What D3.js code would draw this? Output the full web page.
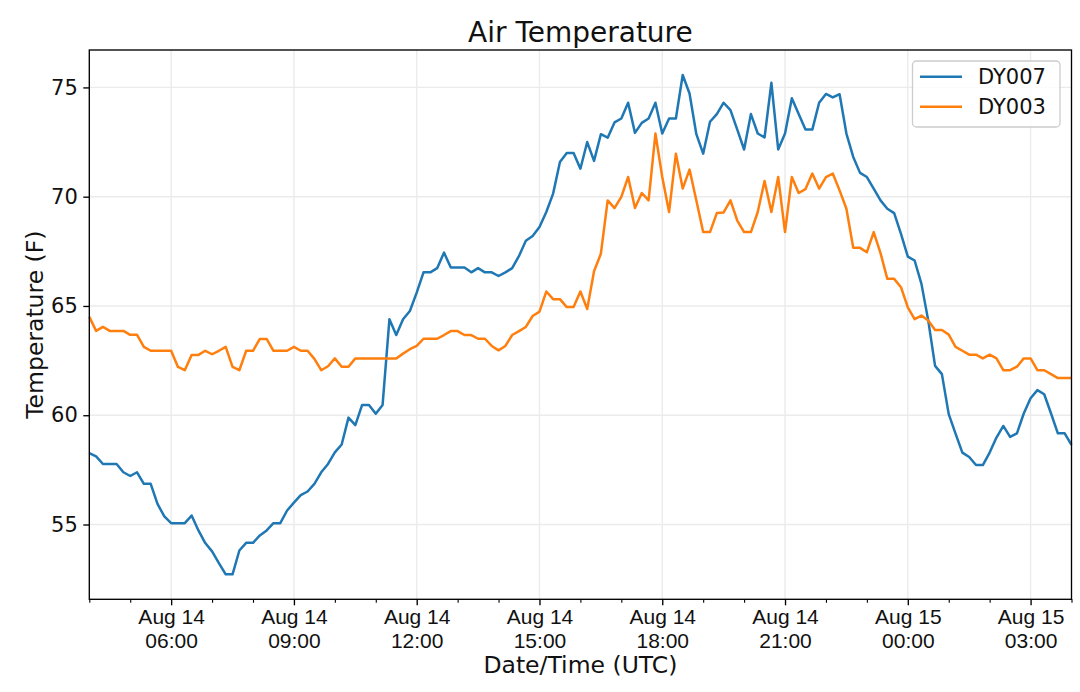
<!DOCTYPE html>
<html>
<head>
<meta charset="utf-8">
<script src="https://cdn.jsdelivr.net/npm/d3@7"></script>
<style>
  body { margin: 0; background: #fff; }
  svg { font-family: "DejaVu Sans", sans-serif; }
</style>
</head>
<body>
<div id="chart"></div>
<script>
// readings every 10 minutes, Aug 14 04:00 UTC -> Aug 15 04:00 UTC
const startTime = "2018-08-14T04:00:00Z";
const stepMinutes = 10;

const seriesNames = ["DY007", "DY003"];
const seriesColors = ["#1f77b4", "#ff7f0e"];

const dy007 = [
  58.27, 58.12, 57.77, 57.77, 57.77, 57.39, 57.22, 57.39, 56.86, 56.86,
  55.94, 55.37, 55.06, 55.06, 55.06, 55.41, 54.73, 54.15, 53.77, 53.23,
  52.72, 52.72, 53.81, 54.16, 54.16, 54.50, 54.73, 55.06, 55.06, 55.64,
  56.00, 56.34, 56.51, 56.86, 57.39, 57.77, 58.30, 58.66, 59.89, 59.55,
  60.47, 60.47, 60.07, 60.47, 64.39, 63.67, 64.39, 64.77, 65.61, 66.54,
  66.54, 66.73, 67.44, 66.76, 66.76, 66.76, 66.54, 66.73, 66.54, 66.54,
  66.37, 66.54, 66.73, 67.29, 67.98, 68.20, 68.61, 69.30, 70.14, 71.59,
  72.00, 72.00, 71.28, 72.50, 71.64, 72.86, 72.70, 73.40, 73.58, 74.30,
  72.92, 73.38, 73.58, 74.30, 72.89, 73.58, 73.58, 75.57, 74.72, 72.86,
  71.97, 73.43, 73.78, 74.30, 73.96, 73.07, 72.16, 73.78, 72.89, 72.71,
  75.21, 72.16, 72.89, 74.50, 73.78, 73.07, 73.07, 74.30, 74.70, 74.54,
  74.69, 72.89, 71.82, 71.09, 70.90, 70.37, 69.83, 69.45, 69.25, 68.30,
  67.26, 67.08, 66.01, 64.33, 62.26, 61.88, 60.05, 59.16, 58.29, 58.09,
  57.72, 57.72, 58.29, 58.98, 59.51, 59.01, 59.17, 60.08, 60.78, 61.15,
  60.96, 60.08, 59.17, 59.17, 58.64
];

const dy003 = [
  64.50, 63.86, 64.04, 63.86, 63.86, 63.86, 63.68, 63.68, 63.13, 62.95,
  62.95, 62.95, 62.95, 62.21, 62.06, 62.76, 62.76, 62.95, 62.79, 62.95,
  63.13, 62.21, 62.06, 62.95, 62.95, 63.49, 63.49, 62.95, 62.95, 62.95,
  63.13, 62.95, 62.95, 62.58, 62.06, 62.24, 62.60, 62.22, 62.22, 62.60,
  62.60, 62.60, 62.60, 62.60, 62.60, 62.60, 62.82, 63.02, 63.17, 63.50,
  63.50, 63.50, 63.67, 63.85, 63.85, 63.67, 63.67, 63.50, 63.50, 63.17,
  62.97, 63.17, 63.67, 63.85, 64.04, 64.54, 64.74, 65.66, 65.31, 65.31,
  64.95, 64.95, 65.66, 64.86, 66.59, 67.39, 69.83, 69.48, 69.99, 70.90,
  69.48, 70.17, 69.83, 72.89, 70.90, 69.30, 71.97, 70.37, 71.24, 69.83,
  68.38, 68.38, 69.25, 69.28, 69.83, 68.91, 68.38, 68.38, 69.30, 70.72,
  69.30, 70.90, 68.38, 70.90, 70.17, 70.35, 71.06, 70.37, 70.90, 71.06,
  70.29, 69.45, 67.66, 67.66, 67.46, 68.38, 67.42, 66.24, 66.24, 65.86,
  64.94, 64.40, 64.56, 64.33, 63.90, 63.90, 63.69, 63.13, 62.95, 62.77,
  62.77, 62.60, 62.77, 62.60, 62.06, 62.06, 62.22, 62.60, 62.60, 62.06,
  62.06, 61.88, 61.70, 61.70, 61.70
];

const yTickValues = [55, 60, 65, 70, 75];

const chartTitle = "Air Temperature";
const xLabel = "Date/Time (UTC)";
const yLabel = "Temperature (F)";

const width = 1080, height = 692;
const margin = { top: 50, right: 8.5, bottom: 92.7, left: 89.3 };
const innerW = width - margin.left - margin.right;
const innerH = height - margin.top - margin.bottom;

const t0 = new Date(startTime);
const times = dy007.map((_, i) => d3.utcMinute.offset(t0, i * stepMinutes));
const allSeries = [dy007, dy003].map((vals, k) => ({
  name: seriesNames[k],
  color: seriesColors[k],
  points: vals.map((v, i) => ({ t: times[i], v: v }))
}));

const x = d3.scaleUtc()
  .domain(d3.extent(times))
  .range([0, innerW]);

// matplotlib-style 5% padding on the value axis
const allVals = dy007.concat(dy003);
const [vMin, vMax] = d3.extent(allVals);
const pad = (vMax - vMin) * 0.05;
const y = d3.scaleLinear()
  .domain([vMin - pad, vMax + pad])
  .range([innerH, 0]);

const svg = d3.select("#chart").append("svg")
  .attr("width", width)
  .attr("height", height);

const g = svg.append("g")
  .attr("transform", `translate(${margin.left},${margin.top})`);

// grid
const majorTicks = d3.utcHour.every(3).range(x.domain()[0], d3.utcMinute.offset(x.domain()[1], 1))
  .filter(d => x(d) > 0.5 && x(d) < innerW - 0.5);
const minorTicks = d3.utcHour.range(x.domain()[0], d3.utcMinute.offset(x.domain()[1], 1))
  .filter(d => d.getUTCHours() % 3 !== 0);

g.append("g").selectAll("line.vgrid")
  .data(majorTicks)
  .join("line")
  .attr("x1", d => x(d)).attr("x2", d => x(d))
  .attr("y1", 0).attr("y2", innerH)
  .attr("stroke", "#ebebeb")
  .attr("stroke-width", 1.4);

g.append("g").selectAll("line.hgrid")
  .data(yTickValues)
  .join("line")
  .attr("x1", 0).attr("x2", innerW)
  .attr("y1", d => y(d)).attr("y2", d => y(d))
  .attr("stroke", "#ebebeb")
  .attr("stroke-width", 1.4);

// lines
const line = d3.line()
  .x(d => x(d.t))
  .y(d => y(d.v));

const plot = g.append("g");
allSeries.forEach(s => {
  plot.append("path")
    .datum(s.points)
    .attr("fill", "none")
    .attr("stroke", s.color)
    .attr("stroke-width", 2.5)
    .attr("stroke-linejoin", "round")
    .attr("d", line);
});

// frame
g.append("rect")
  .attr("width", innerW)
  .attr("height", innerH)
  .attr("fill", "none")
  .attr("stroke", "#000")
  .attr("stroke-width", 1.35);

// x axis
const fmtDay = d3.utcFormat("%b %d");
const fmtHour = d3.utcFormat("%H:%M");

const xAxisG = g.append("g")
  .attr("transform", `translate(0,${innerH})`)
  .call(d3.axisBottom(x).tickValues(majorTicks).tickSize(6).tickFormat(""));
xAxisG.select(".domain").remove();
xAxisG.selectAll(".tick line").attr("stroke", "#000").attr("stroke-width", 1.35);
xAxisG.selectAll(".tick").each(function(d) {
  const t = d3.select(this).append("text")
    .attr("fill", "#111")
    .attr("text-anchor", "middle")
    .style("font-size", "21px");
  t.append("tspan").attr("x", 0).attr("y", 25).text(fmtDay(d));
  t.append("tspan").attr("x", 0).attr("y", 49).text(fmtHour(d));
});

g.append("g")
  .attr("transform", `translate(0,${innerH})`)
  .call(d3.axisBottom(x).tickValues(minorTicks).tickSize(3.5).tickFormat(""))
  .call(a => a.select(".domain").remove())
  .selectAll(".tick line").attr("stroke", "#000").attr("stroke-width", 1.1);

// y axis
const yAxisG = g.append("g")
  .call(d3.axisLeft(y).tickValues(yTickValues).tickSize(6).tickPadding(5.5));
yAxisG.select(".domain").remove();
yAxisG.selectAll(".tick line").attr("stroke", "#000").attr("stroke-width", 1.35);
yAxisG.selectAll(".tick text")
  .attr("fill", "#111")
  .style("font-family", "DejaVu Sans, sans-serif")
  .style("font-size", "21px");

// labels
svg.append("text")
  .attr("x", margin.left + innerW / 2)
  .attr("y", 42.3)
  .attr("text-anchor", "middle")
  .attr("fill", "#111")
  .style("font-size", "28px")
  .text(chartTitle);

svg.append("text")
  .attr("x", margin.left + innerW / 2)
  .attr("y", 673)
  .attr("text-anchor", "middle")
  .attr("fill", "#111")
  .style("font-size", "23.5px")
  .text(xLabel);

svg.append("text")
  .attr("transform", `translate(42.5,${margin.top + innerH / 2}) rotate(-90)`)
  .attr("text-anchor", "middle")
  .attr("fill", "#111")
  .style("font-size", "23.5px")
  .text(yLabel);

// legend
const legend = svg.append("g").attr("transform", "translate(912.5,61)");
legend.append("rect")
  .attr("width", 147.5)
  .attr("height", 66)
  .attr("rx", 4)
  .attr("fill", "#fff")
  .attr("fill-opacity", 0.8)
  .attr("stroke", "#cccccc")
  .attr("stroke-width", 1.3);

const rows = legend.selectAll("g.row")
  .data(allSeries)
  .join("g")
  .attr("transform", (d, i) => `translate(0,${15.7 + i * 30})`);
rows.append("line")
  .attr("x1", 7.5).attr("x2", 49.5)
  .attr("stroke", d => d.color)
  .attr("stroke-width", 2.5);
rows.append("text")
  .attr("x", 65.5)
  .attr("y", 7.5)
  .attr("fill", "#111")
  .style("font-size", "21px")
  .text(d => d.name);
</script>
</body>
</html>
